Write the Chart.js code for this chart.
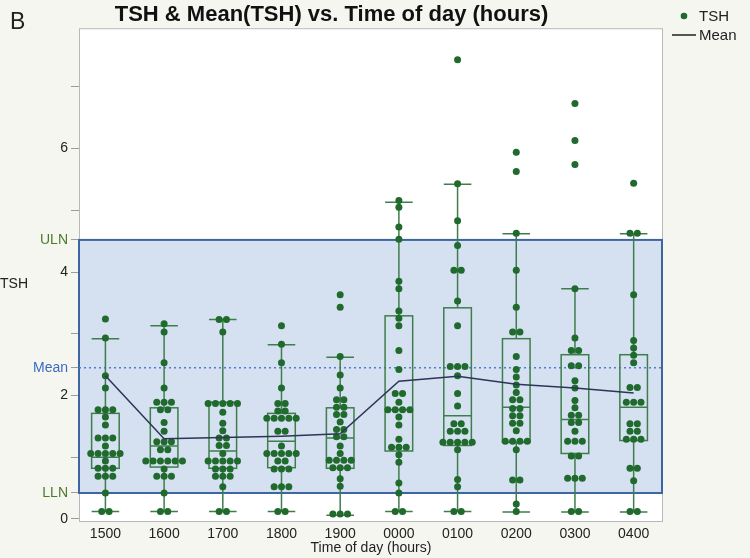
<!DOCTYPE html>
<html>
<head>
<meta charset="utf-8">
<script src="https://cdn.jsdelivr.net/npm/chart.js@4"></script>
<style>
  html, body { margin: 0; padding: 0; background: #f6f6f1; }
  canvas { display: block; }
</style>
</head>
<body>
<canvas id="tshChart" width="750" height="558"></canvas>
<script>
// time of day categories
const categories = ['1500', '1600', '1700', '1800', '1900', '0000', '0100', '0200', '0300', '0400'];

// individual TSH values per time point
const tsh1500 = [3.24, 2.93, 2.32, 2.12, 1.77, 1.77, 1.77, 1.65, 1.52, 1.31, 1.31, 1.31, 1.18, 1.06, 1.06, 1.06, 1.06, 1.06, 0.94, 0.82, 0.82, 0.82, 0.69, 0.69, 0.69, 0.42, 0.12, 0.12];
const tsh1600 = [3.16, 3.03, 2.53, 2.12, 1.89, 1.89, 1.89, 1.77, 1.77, 1.56, 1.42, 1.25, 1.25, 1.25, 1.12, 1.12, 0.94, 0.94, 0.94, 0.94, 0.94, 0.94, 0.81, 0.69, 0.69, 0.69, 0.42, 0.12, 0.12];
const tsh1700 = [3.23, 3.23, 3.03, 1.87, 1.87, 1.87, 1.87, 1.87, 1.73, 1.55, 1.43, 1.31, 1.31, 1.19, 1.19, 1.06, 0.94, 0.94, 0.94, 0.94, 0.94, 0.81, 0.81, 0.81, 0.69, 0.69, 0.69, 0.52, 0.12, 0.12];
const tsh1800 = [3.13, 2.83, 2.53, 2.12, 1.87, 1.87, 1.75, 1.75, 1.63, 1.63, 1.63, 1.63, 1.63, 1.42, 1.42, 1.18, 1.06, 1.06, 1.06, 1.06, 1.06, 0.94, 0.94, 0.81, 0.81, 0.81, 0.52, 0.52, 0.52, 0.12, 0.12];
const tsh1900 = [3.63, 3.43, 2.63, 2.33, 2.12, 1.93, 1.93, 1.81, 1.81, 1.69, 1.69, 1.57, 1.45, 1.45, 1.33, 1.33, 1.18, 1.06, 0.95, 0.95, 0.95, 0.95, 0.83, 0.83, 0.83, 0.65, 0.53, 0.08, 0.08, 0.08];
const tsh0000 = [5.16, 5.05, 4.73, 4.53, 3.85, 3.73, 3.37, 3.25, 3.13, 2.73, 2.42, 2.03, 2.03, 1.89, 1.77, 1.77, 1.77, 1.77, 1.65, 1.52, 1.29, 1.16, 1.16, 1.16, 1.04, 0.92, 0.58, 0.42, 0.12, 0.12];
const tsh0100 = [7.44, 5.43, 4.83, 4.43, 4.03, 4.03, 3.53, 3.13, 2.47, 2.47, 2.47, 2.32, 2.03, 1.83, 1.54, 1.54, 1.42, 1.42, 1.42, 1.24, 1.24, 1.24, 1.24, 1.24, 1.12, 0.64, 0.52, 0.12, 0.12];
const tsh0200 = [5.94, 5.63, 4.63, 4.03, 3.43, 3.03, 3.03, 2.63, 2.42, 2.30, 2.17, 2.05, 1.93, 1.93, 1.79, 1.79, 1.67, 1.67, 1.55, 1.55, 1.43, 1.26, 1.26, 1.26, 1.26, 1.12, 0.63, 0.63, 0.24, 0.12];
const tsh0300 = [6.73, 6.13, 5.74, 3.73, 2.93, 2.73, 2.73, 2.48, 2.48, 2.24, 2.12, 1.92, 1.80, 1.68, 1.68, 1.56, 1.56, 1.42, 1.26, 1.26, 1.26, 1.02, 1.02, 0.66, 0.66, 0.66, 0.12, 0.12];
const tsh0400 = [5.44, 4.63, 4.63, 3.63, 2.89, 2.77, 2.65, 2.53, 2.13, 2.13, 1.89, 1.89, 1.89, 1.54, 1.54, 1.42, 1.42, 1.29, 1.29, 1.29, 0.82, 0.82, 0.62, 0.12, 0.12];
const tshByTime = [tsh1500, tsh1600, tsh1700, tsh1800, tsh1900, tsh0000, tsh0100, tsh0200, tsh0300, tsh0400];

// box plot summaries
const q1Values = [0.82, 0.84, 0.82, 0.83, 0.82, 1.10, 1.19, 1.24, 1.06, 1.27];
const medianValues = [1.00, 1.18, 1.10, 1.26, 1.31, 1.77, 1.67, 1.81, 1.61, 1.81];
const q3Values = [1.71, 1.80, 1.89, 1.71, 1.80, 3.29, 3.42, 2.92, 2.66, 2.66];
const whiskerLow = [0.12, 0.12, 0.12, 0.12, 0.06, 0.12, 0.12, 0.11, 0.11, 0.11];
const whiskerHigh = [2.92, 3.13, 3.23, 2.82, 2.62, 5.13, 5.42, 4.62, 3.73, 4.62];

// Mean(TSH) line
const meanValues = [2.32, 1.30, 1.32, 1.34, 1.38, 2.23, 2.31, 2.18, 2.12, 2.04];

// reference lines
const ULN = 4.52;
const MEAN_REF = 2.45;
const LLN = 0.42;
const yTickValues = [0, 1, 2, 3, 4, 5, 6, 7];

const dotColor = '#1f6a2c';
const boxColor = '#3f7e4c';
const greenLabel = '#4c7a2c';
const blueLabel = '#3b6bc0';

Chart.defaults.font.family = '"Liberation Sans", Arial, Helvetica, sans-serif';

// beeswarm: equal values in a column get spread side by side
const swarmPoints = [];
tshByTime.forEach((vals, i) => {
  const counts = {};
  vals.forEach(v => { counts[v] = (counts[v] || 0) + 1; });
  const seen = {};
  vals.forEach(v => {
    const n = counts[v];
    const k = seen[v] || 0;
    seen[v] = k + 1;
    swarmPoints.push({ x: i + (k - (n - 1) / 2) * 0.125, y: v });
  });
});

const meanPoints = meanValues.map((v, i) => ({ x: i, y: v }));

const decor = {
  id: 'decor',
  beforeDraw(chart) {
    const { ctx, chartArea: a } = chart;
    ctx.save();
    ctx.fillStyle = '#ffffff';
    ctx.fillRect(a.left, a.top, a.right - a.left, a.bottom - a.top);
    ctx.restore();
  },
  beforeDatasetsDraw(chart) {
    const { ctx, chartArea: a, scales: { x, y } } = chart;
    ctx.save();
    const yU = y.getPixelForValue(ULN);
    const yL = y.getPixelForValue(LLN);
    ctx.fillStyle = '#d5e0f1';
    ctx.fillRect(a.left, yU, a.right - a.left, yL - yU);

    ctx.strokeStyle = '#b8b8b8';
    ctx.lineWidth = 1;
    ctx.strokeRect(a.left + 0.5, a.top + 0.5, a.right - a.left - 1, a.bottom - a.top - 1);

    ctx.strokeStyle = '#3d65a2';
    ctx.lineWidth = 2;
    ctx.strokeRect(a.left, yU, a.right - a.left - 1, yL - yU);

    const yM = y.getPixelForValue(MEAN_REF);
    ctx.strokeStyle = '#4b7dd2';
    ctx.lineWidth = 1.5;
    ctx.setLineDash([2, 3]);
    ctx.beginPath();
    ctx.moveTo(a.left, yM);
    ctx.lineTo(a.right, yM);
    ctx.stroke();
    ctx.setLineDash([]);

    // box plots
    const half = x.getPixelForValue(0.235) - x.getPixelForValue(0);
    ctx.strokeStyle = boxColor;
    ctx.lineWidth = 1.5;
    categories.forEach((c, i) => {
      const cx = x.getPixelForValue(i);
      const yq1 = y.getPixelForValue(q1Values[i]);
      const yq3 = y.getPixelForValue(q3Values[i]);
      const ymed = y.getPixelForValue(medianValues[i]);
      const ylo = y.getPixelForValue(whiskerLow[i]);
      const yhi = y.getPixelForValue(whiskerHigh[i]);
      ctx.strokeRect(cx - half, yq3, half * 2, yq1 - yq3);
      ctx.beginPath();
      ctx.moveTo(cx - half, ymed); ctx.lineTo(cx + half, ymed);
      ctx.moveTo(cx, yq3); ctx.lineTo(cx, yhi);
      ctx.moveTo(cx, yq1); ctx.lineTo(cx, ylo);
      ctx.moveTo(cx - half, yhi); ctx.lineTo(cx + half, yhi);
      ctx.moveTo(cx - half, ylo); ctx.lineTo(cx + half, ylo);
      ctx.stroke();
    });
    ctx.restore();
  },
  afterDraw(chart) {
    const { ctx, scales: { y } } = chart;
    ctx.save();
    ctx.fillStyle = '#222';
    ctx.textBaseline = 'alphabetic';
    ctx.font = '23px "Liberation Sans", Arial, sans-serif';
    ctx.fillText('B', 10, 29);

    ctx.font = '14px "Liberation Sans", Arial, sans-serif';
    ctx.textBaseline = 'middle';
    ctx.fillText('TSH', 0, y.getPixelForValue(3.8));

    // legend
    ctx.font = '15px "Liberation Sans", Arial, sans-serif';
    ctx.fillStyle = dotColor;
    ctx.beginPath();
    ctx.arc(684, 16, 3.3, 0, Math.PI * 2);
    ctx.fill();
    ctx.fillStyle = '#222';
    ctx.fillText('TSH', 699, 17);
    ctx.strokeStyle = '#555';
    ctx.lineWidth = 2;
    ctx.beginPath();
    ctx.moveTo(672, 35); ctx.lineTo(696, 35);
    ctx.stroke();
    ctx.fillText('Mean', 699, 36);
    ctx.restore();
  }
};

new Chart(document.getElementById('tshChart').getContext('2d'), {
  type: 'scatter',
  data: {
    datasets: [
      {
        label: 'TSH',
        data: swarmPoints,
        pointRadius: 3.5,
        pointHoverRadius: 3.5,
        backgroundColor: dotColor,
        borderWidth: 0,
        order: 2
      },
      {
        label: 'Mean',
        data: meanPoints,
        showLine: true,
        borderColor: '#2c3556',
        borderWidth: 1.5,
        pointRadius: 0,
        order: 1
      }
    ]
  },
  options: {
    responsive: false,
    animation: false,
    devicePixelRatio: 1,
    layout: { padding: { left: 0, right: 87, top: 0, bottom: 2 } },
    plugins: {
      legend: { display: false },
      tooltip: { enabled: false },
      title: {
        display: true,
        text: 'TSH & Mean(TSH) vs. Time of day (hours)',
        color: '#111',
        font: { size: 22, weight: 'bold', lineHeight: 1.1 },
        padding: { top: 3, bottom: 1 }
      }
    },
    scales: {
      x: {
        type: 'linear',
        min: -0.45,
        max: 9.5,
        afterBuildTicks(scale) { scale.ticks = categories.map((c, i) => ({ value: i })); },
        afterFit(scale) { scale.height = 34; },
        border: { display: false },
        grid: { display: false },
        ticks: {
          autoSkip: false,
          maxRotation: 0,
          padding: -3,
          color: '#222',
          font: { size: 14, lineHeight: 1 },
          callback: v => categories[v]
        },
        title: {
          display: true,
          text: 'Time of day (hours)',
          color: '#222',
          font: { size: 14, lineHeight: 1.1 },
          padding: { top: 0, bottom: 0 }
        }
      },
      y: {
        min: -0.05,
        max: 7.95,
        afterBuildTicks(scale) {
          scale.ticks = yTickValues.concat([LLN, MEAN_REF, ULN]).sort((a, b) => a - b).map(v => ({ value: v }));
        },
        afterFit(scale) { scale.width = 79; },
        border: { display: false },
        grid: { drawOnChartArea: false, drawTicks: true, tickLength: 8, tickColor: '#9c9c9c' },
        ticks: {
          autoSkip: false,
          padding: 3,
          font: { size: 14 },
          color: c => {
            const v = c.tick && c.tick.value;
            if (v === ULN || v === LLN) return greenLabel;
            if (v === MEAN_REF) return blueLabel;
            return '#222';
          },
          callback: v => {
            if (v === ULN) return 'ULN';
            if (v === LLN) return 'LLN';
            if (v === MEAN_REF) return 'Mean';
            return v % 2 === 0 ? String(v) : '';
          }
        }
      }
    }
  },
  plugins: [decor]
});
</script>
</body>
</html>
